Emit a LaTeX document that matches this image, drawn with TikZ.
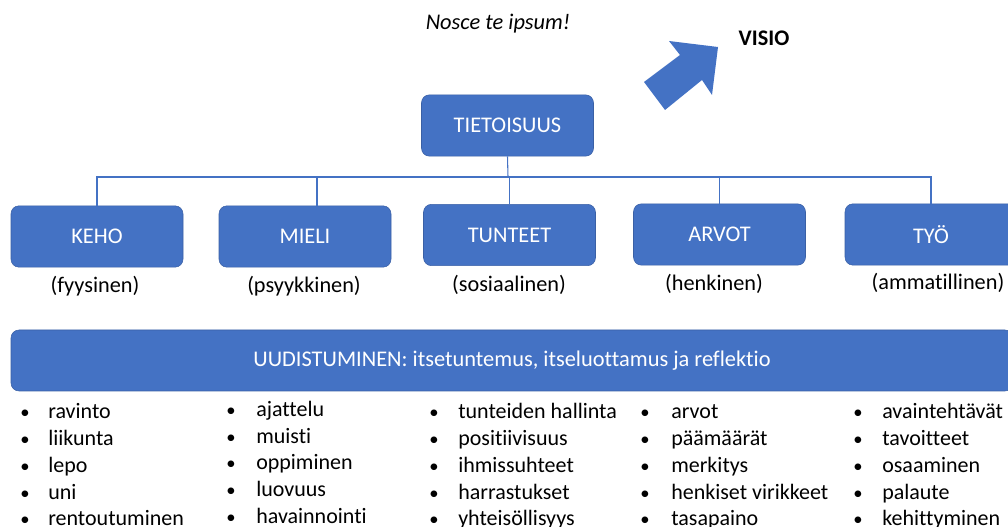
\documentclass[tikz,border=0pt]{standalone}
\usepackage{fontspec}
\setmainfont[Ligatures=NoCommon]{Carlito}
\usetikzlibrary{positioning,calc}
\definecolor{boxBlue}{RGB}{68,114,196}
\definecolor{boxEdge}{RGB}{58,96,165}
\tikzset{
    topicbox/.style={
        rectangle,
        rounded corners=6pt,
        draw=boxEdge,
        fill=boxBlue,
        text=white,
        font=\fontsize{16.8}{20}\selectfont,
        minimum width=129pt,
        minimum height=46pt
    },
    conn/.style={
        draw=boxBlue,
        line width=0.8pt
    },
    subtxt/.style={font=\fontsize{16.7}{20}\selectfont},
    item/.style={font=\fontsize{16.5}{20}\selectfont, inner sep=0pt, anchor=base west},
    bul/.style={font=\fontsize{14}{17}\selectfont, inner sep=0pt, anchor=base}
}

\begin{document}
\begin{tikzpicture}[x=0.75pt, y=-0.75pt]
    \useasboundingbox (0,0) rectangle (1008,527);
    \clip (0,0) rectangle (1008,527);

    % Otsikot
    \node[font=\fontsize{16.8}{20}\selectfont\itshape] (motto) at (498,24) {Nosce te ipsum!};
    \node[font=\fontsize{16.7}{20}\selectfont\bfseries] (visio) at (764,38) {VISIO};
    \fill[boxBlue] (669,41) -- (718,47) -- (712,95) -- (702,80) -- (665,110)
        -- (644,82) -- (680,55) -- cycle;

    % Laatikot
    \node[topicbox] (tieto) at (507.5,125.5) {TIETOISUUS};
    \node[topicbox] (keho) at (97,236.5) {KEHO};
    \node[topicbox] (mieli) at (305,236.5) {MIELI};
    \node[topicbox] (tunteet) at (509.5,235) {TUNTEET};
    \node[topicbox] (arvot) at (719.5,234.5) {ARVOT};
    \node[topicbox] (tyo) at (931,234.5) {TYÖ};

    % Viivat
    \coordinate (hub) at (508,177);
    \draw[conn] (tieto.south) -- (hub);
    \draw[conn] (keho.north) |- (hub);
    \draw[conn] ([xshift=9pt]mieli.north) |- (hub);
    \draw[conn] (tunteet.north) |- (hub);
    \draw[conn] (arvot.north) |- (hub);
    \draw[conn] (tyo.north) |- (hub);

    % Alaotsikot
    \node[subtxt] (keho_s) at (95,286) {(fyysinen)};
    \node[subtxt] (mieli_s) at (304,286) {(psyykkinen)};
    \node[subtxt] (tunteet_s) at (509,285) {(sosiaalinen)};
    \node[subtxt] (arvot_s) at (714,284) {(henkinen)};
    \node[subtxt] (tyo_s) at (938,283) {(ammatillinen)};

    % Palkki
    \node[topicbox, minimum width=751.5pt, minimum height=45.75pt] (uudis) at (512,360.5)
        {UUDISTUMINEN: itsetuntemus, itseluottamus ja reflektio};

    % Listat
    \foreach \t [count=\i] in {ravinto, liikunta, lepo, uni, rentoutuminen} {
        \node[bul] (keho_b\i) at (25,{419+26.75*(\i-1)}) {•};
        \node[item] (keho_i\i) at (48,{419+26.75*(\i-1)}) {\t};
    }
    \foreach \t [count=\i] in {ajattelu, muisti, oppiminen, luovuus, havainnointi} {
        \node[bul] (mieli_b\i) at (231,{417+26.5*(\i-1)}) {•};
        \node[item] (mieli_i\i) at (256,{417+26.5*(\i-1)}) {\t};
    }
    \foreach \t [count=\i] in {tunteiden hallinta, positiivisuus, ihmissuhteet, harrastukset, yhteisöllisyys} {
        \node[bul] (tunteet_b\i) at (434,{419+26.75*(\i-1)}) {•};
        \node[item] (tunteet_i\i) at (458,{419+26.75*(\i-1)}) {\t};
    }
    \foreach \t [count=\i] in {arvot, päämäärät, merkitys, henkiset virikkeet, tasapaino} {
        \node[bul] (arvot_b\i) at (645,{419+26.75*(\i-1)}) {•};
        \node[item] (arvot_i\i) at (671,{419+26.75*(\i-1)}) {\t};
    }
    \foreach \t [count=\i] in {avaintehtävät, tavoitteet, osaaminen, palaute, kehittyminen} {
        \node[bul] (tyo_b\i) at (858,{419+26.75*(\i-1)}) {•};
        \node[item] (tyo_i\i) at (882,{419+26.75*(\i-1)}) {\t};
    }
\end{tikzpicture}
\end{document}
